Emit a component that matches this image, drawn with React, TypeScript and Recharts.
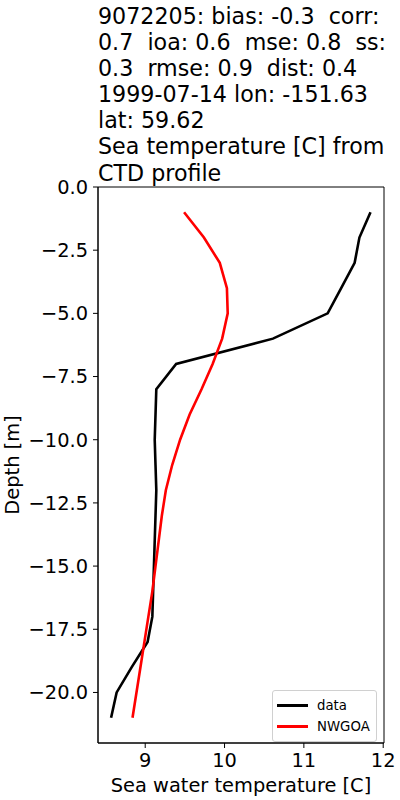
import React from "react"
import { ComposedChart, Line, XAxis, YAxis, Legend, ReferenceArea } from "recharts"

const titleLines = [
  "9072205: bias: -0.3  corr:",
  "0.7  ioa: 0.6  mse: 0.8  ss:",
  "0.3  rmse: 0.9  dist: 0.4",
  "1999-07-14 lon: -151.63",
  "lat: 59.62",
  "Sea temperature [C] from",
  "CTD profile",
]

const seriesNames = ["data", "NWGOA"]
const depths = [-1, -2, -3, -4, -5, -6, -7, -8, -9, -10, -11, -12, -13, -14, -15, -16, -17, -18, -19, -20, -21]
const dataTemp = [11.84, 11.7, 11.64, 11.47, 11.3, 10.61, 9.39, 9.14, 9.13, 9.12, 9.13, 9.14, 9.13, 9.12, 9.11, 9.1, 9.09, 9.03, 8.83, 8.64, 8.57]
const modelTemp = [9.49, 9.74, 9.94, 10.03, 10.04, 9.97, 9.85, 9.71, 9.56, 9.44, 9.34, 9.26, 9.21, 9.17, 9.13, 9.09, 9.04, 8.99, 8.94, 8.89, 8.84]

const xTicks = [9, 10, 11, 12]
const yTicks = [0, -2.5, -5, -7.5, -10, -12.5, -15, -17.5, -20]
const xDomain: [number, number] = [8.405, 12.01]
const yDomain: [number, number] = [-22, 0]

const dataSeries = depths.map((d, i) => ({ depth: d, temp: dataTemp[i] }))
const modelSeries = depths.map((d, i) => ({ depth: d, temp: modelTemp[i] }))

const font = "DejaVu Sans"

const fmtY = (v: number) => (v === 0 ? "0.0" : "\u2212" + Math.abs(v).toFixed(1))

function LegendBox({ payload }: any) {
  const items = [...(payload || [])].sort(
    (a: any, b: any) => seriesNames.indexOf(a.value) - seriesNames.indexOf(b.value)
  )
  return (
    <div
      style={{
        border: "1px solid #d0d0d0",
        borderRadius: 3,
        background: "#fff",
        padding: "4px 0 4px 4px",
        fontFamily: font,
        fontSize: 13.3,
      }}
    >
      {items.map((p: any) => (
        <div key={p.value} style={{ display: "flex", alignItems: "center", height: 21 }}>
          <div style={{ width: 31, height: 2.6, background: p.color, marginRight: 9 }} />
          <span>{p.value}</span>
        </div>
      ))}
    </div>
  )
}

export default function App() {
  return (
    <div style={{ position: "absolute", left: 0, top: 0, width: 400, height: 800, background: "#fff" }}>
      <div
        style={{
          position: "absolute",
          left: 98,
          top: 3,
          fontFamily: font,
          fontSize: 22.2,
          lineHeight: "26.1px",
          whiteSpace: "pre",
          color: "#000",
        }}
      >
        {titleLines.map((t) => (
          <div key={t}>{t}</div>
        ))}
      </div>
      <ComposedChart
        width={400}
        height={800}
        margin={{ top: 187, right: 16, bottom: 0, left: 0 }}
        style={{ fontFamily: font }}
      >
        <XAxis
          type="number"
          dataKey="temp"
          domain={xDomain}
          ticks={xTicks}
          allowDataOverflow
          height={57}
          stroke="#000"
          tickSize={5}
          tickMargin={5}
          tick={{ fill: "#000", fontSize: 19.4 }}
          label={{ value: "Sea water temperature [C]", position: "insideBottom", offset: 8, fill: "#000", fontSize: 19.4 }}
        />
        <YAxis
          type="number"
          dataKey="depth"
          domain={yDomain}
          ticks={yTicks}
          allowDataOverflow
          width={98}
          stroke="#000"
          tickSize={5}
          tickMargin={5}
          tickFormatter={fmtY}
          tick={{ fill: "#000", fontSize: 19.4 }}
          label={({ viewBox }: any) => (
            <text
              x={12}
              y={viewBox.y + viewBox.height / 2}
              transform={`rotate(-90, 12, ${viewBox.y + viewBox.height / 2})`}
              textAnchor="middle"
              dominantBaseline="central"
              fill="#000"
              fontSize={19.4}
            >
              Depth [m]
            </text>
          )}
        />
        <ReferenceArea x1={xDomain[0]} x2={xDomain[1]} y1={yDomain[0]} y2={yDomain[1]} fill="none" stroke="#000" strokeWidth={1} />
        <Line data={dataSeries} dataKey="depth" name={seriesNames[0]} stroke="#000000" strokeWidth={2.6} dot={false} isAnimationActive={false} legendType="line" />
        <Line data={modelSeries} dataKey="depth" name={seriesNames[1]} stroke="#ff0000" strokeWidth={2.6} dot={false} isAnimationActive={false} legendType="line" />
        <Legend
          layout="vertical"
          align="center"
          verticalAlign="middle"
          wrapperStyle={{ left: 272, top: 690, width: 105 }}
          content={<LegendBox />}
        />
      </ComposedChart>
    </div>
  )
}
